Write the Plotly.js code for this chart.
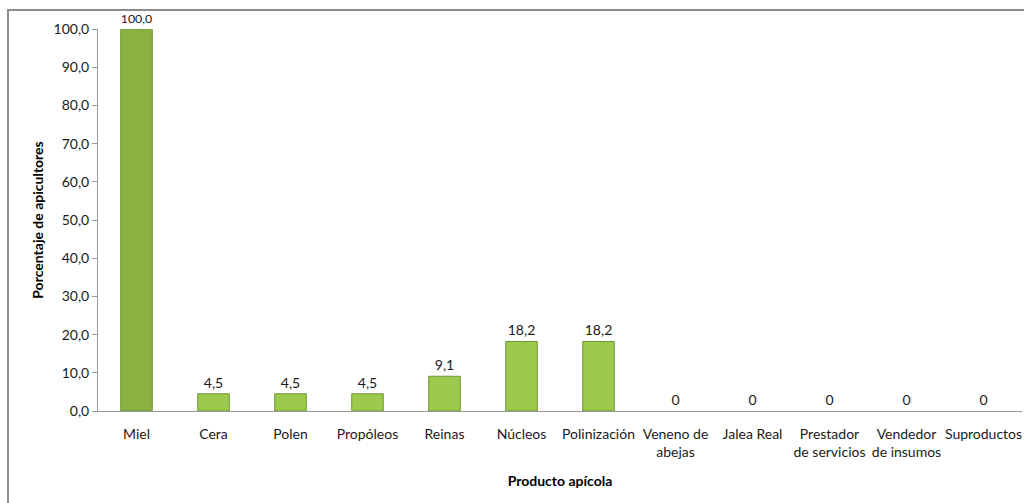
<!DOCTYPE html>
<html>
<head>
<meta charset="utf-8">
<script src="https://cdn.plot.ly/plotly-3.0.1.min.js"></script>
<style>
  html, body { margin: 0; padding: 0; background: #fff; }
  #wrap { position: relative; width: 1024px; height: 503px; overflow: hidden; }
  #frame { position: absolute; left: 7px; top: 9px; width: 1100px; height: 600px;
           border-left: 2px solid #8c8c8c; border-top: 2px solid #8c8c8c; box-sizing: border-box; }
  #chart { position: absolute; left: 0; top: 0; width: 1024px; height: 503px; }
</style>
</head>
<body>
<div id="wrap">
  <div id="frame"></div>
  <div id="chart"></div>
</div>
<script>
const categories = ["Miel", "Cera", "Polen", "Propóleos", "Reinas", "Núcleos", "Polinización",
  "Veneno de<br>abejas", "Jalea Real", "Prestador<br>de servicios", "Vendedor<br>de insumos", "Suproductos"];
const values = [100.0, 4.5, 4.5, 4.5, 9.1, 18.2, 18.2, 0, 0, 0, 0, 0];
const yTicks = [0, 10, 20, 30, 40, 50, 60, 70, 80, 90, 100];

const labels = values.map(v => v === 0 ? "0" : v.toFixed(1).replace(".", ","));
const colors = values.map(v => v > 50 ? "#8ab243" : "#9dca4d");
const lineWidths = values.map(v => v === 0 ? 0 : 1);

const font = "Lato, 'Open Sans', sans-serif";

const trace = {
  type: "bar",
  x: categories,
  y: values,
  text: labels,
  textposition: "outside",
  cliponaxis: false,
  textfont: { family: font, size: 14, color: "#1a1a1a" },
  marker: { color: colors, line: { color: "#6f9634", width: lineWidths } },
  hoverinfo: "x+y"
};

const layout = {
  width: 1024, height: 503,
  margin: { l: 98, r: 2, t: 29, b: 92 },
  paper_bgcolor: "rgba(0,0,0,0)",
  plot_bgcolor: "rgba(0,0,0,0)",
  bargap: 0.59,
  separators: ",.",
  showlegend: false,
  font: { family: font, size: 14, color: "#1a1a1a" },
  xaxis: {
    type: "category",
    showline: true, linecolor: "#9a9a9a", linewidth: 1,
    ticks: "", showgrid: false, zeroline: false,
    ticklabelstandoff: 10,
    tickfont: { family: font, size: 14, color: "#1a1a1a" },
    title: { text: "Producto apícola", font: { family: font, size: 14, color: "#000" }, standoff: 17 },
    automargin: false
  },
  yaxis: {
    range: [0, 100],
    tickvals: yTicks,
    tickformat: ".1f",
    showline: true, linecolor: "#9a9a9a", linewidth: 1,
    ticks: "outside", ticklen: 5, tickcolor: "#9a9a9a",
    showgrid: false, zeroline: false,
    tickfont: { family: font, size: 14, color: "#1a1a1a" },
    title: { text: "Porcentaje de apicultores", font: { family: font, size: 14, color: "#000" }, standoff: 6 },
    automargin: false
  }
};

Plotly.newPlot("chart", [trace], layout, { displayModeBar: false, staticPlot: true }).then(() => {
  document.querySelectorAll('.g-xtitle text, .g-ytitle text').forEach(t => t.style.fontWeight = 'bold');
});
</script>
</body>
</html>
